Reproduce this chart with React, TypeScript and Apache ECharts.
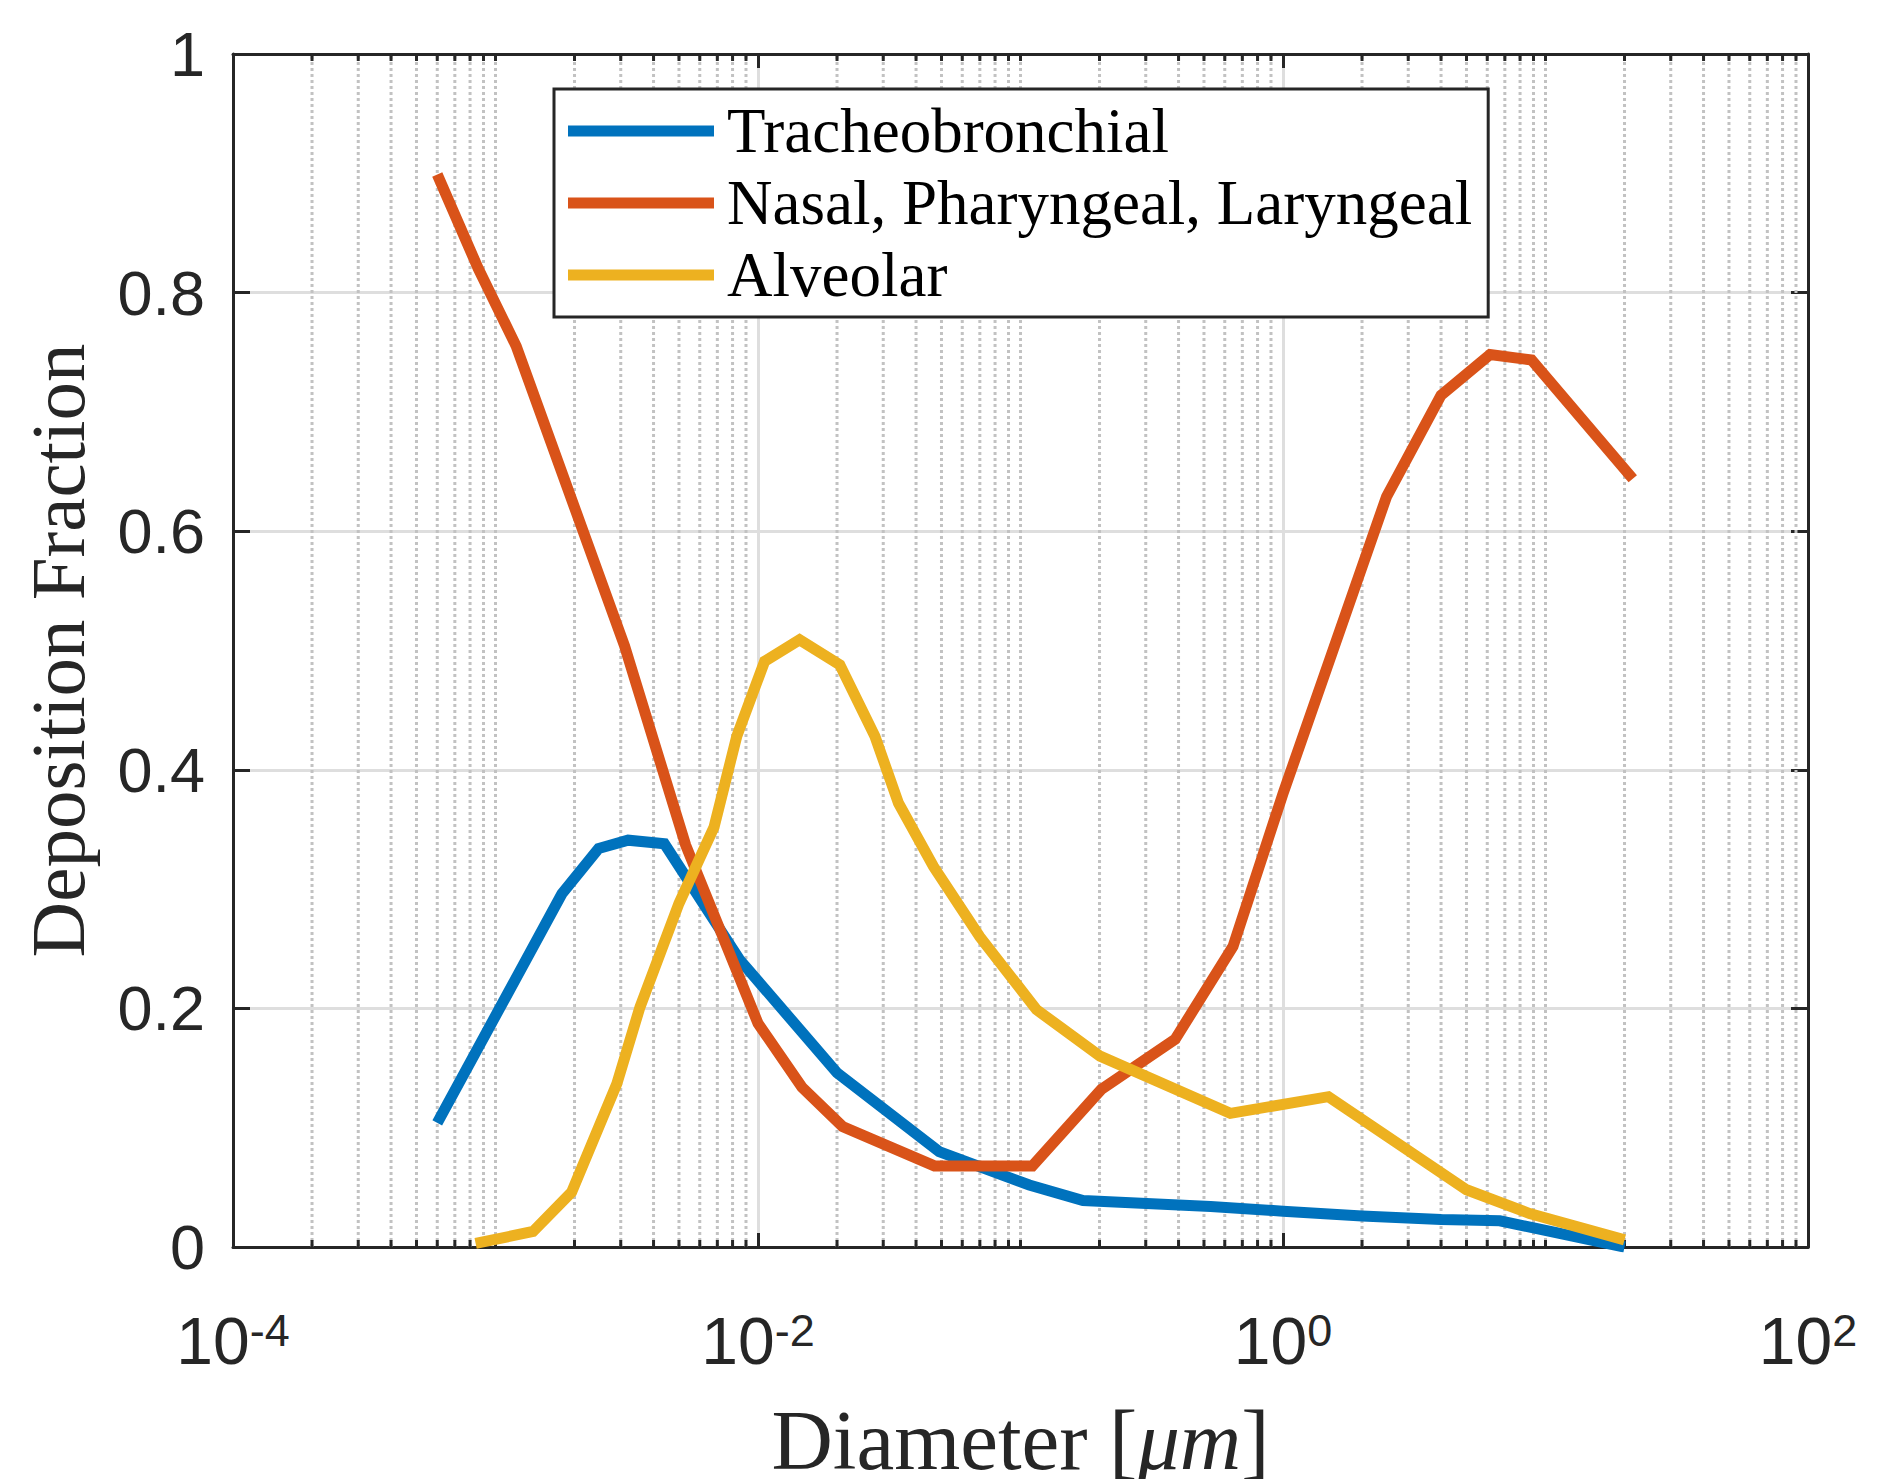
import React, { useEffect, useRef } from "react";
import * as echarts from "echarts";

// ---- data ----
const tracheoDiameter = [6e-4, 1.79e-3, 2.47e-3, 3.2e-3, 4.4e-3, 8.5e-3, 2.0e-2, 4.9e-2, 0.108, 0.173, 0.53, 1.0, 2.0, 4.0, 6.7, 20];
const tracheoFraction = [0.104, 0.296, 0.334, 0.341, 0.338, 0.241, 0.146, 0.08, 0.052, 0.039, 0.034, 0.03, 0.026, 0.023, 0.022, 0.0];

const nasalDiameter = [6e-4, 8.6e-4, 1.2e-3, 3.1e-3, 5.3e-3, 1.0e-2, 1.47e-2, 2.1e-2, 4.7e-2, 0.111, 0.203, 0.388, 0.645, 1.0, 2.48, 4.0, 6.15, 8.85, 21.5];
const nasalFraction = [0.899, 0.82, 0.755, 0.504, 0.337, 0.1875, 0.134, 0.101, 0.068, 0.068, 0.132, 0.174, 0.252, 0.38, 0.629, 0.714, 0.748, 0.7435, 0.644];

const alveolarDiameter = [8.4e-4, 1.39e-3, 1.95e-3, 2.9e-3, 3.55e-3, 5.0e-3, 6.8e-3, 8.3e-3, 1.06e-2, 1.44e-2, 2.05e-2, 2.79e-2, 3.43e-2, 4.66e-2, 7.0e-2, 0.115, 0.201, 0.63, 1.49, 5.0, 8.7, 20];
const alveolarFraction = [0.003, 0.013, 0.046, 0.137, 0.201, 0.288, 0.352, 0.428, 0.491, 0.509, 0.488, 0.428, 0.372, 0.319, 0.26, 0.199, 0.16, 0.112, 0.126, 0.048, 0.028, 0.006];

const seriesNames = ["Tracheobronchial", "Nasal, Pharyngeal, Laryngeal", "Alveolar"];
const seriesColors = ["#0072BD", "#D95319", "#EDB120"];

// log-axis structure: decades and mantissas for minor ticks / grid
const decadeExponents = [-4, -3, -2, -1, 0, 1];
const minorMantissas = [1, 2, 3, 4, 5, 6, 7, 8, 9];
const yTicks = [0, 0.2, 0.4, 0.6, 0.8, 1];

const minorPositions: number[] = [];
for (const e of decadeExponents) {
  for (const m of minorMantissas) {
    if (m === 1 && e % 2 === 0) continue;
    minorPositions.push(m * Math.pow(10, e));
  }
}

const AXIS = "#262626";
const SANS = "Liberation Sans, Arial, Helvetica, sans-serif";
const SERIF = "Liberation Serif, Times New Roman, serif";

function pairs(xs: number[], ys: number[]) {
  return xs.map((x, i) => [x, ys[i]]);
}

export default function App() {
  const ref = useRef<HTMLDivElement>(null);
  useEffect(() => {
    if (!ref.current) return;
    const chart = echarts.init(ref.current, undefined, { renderer: "svg" });
    const xLabelRich = {
      b: { fontSize: 66, fontFamily: SANS, color: AXIS, lineHeight: 66, verticalAlign: "bottom" },
      s: { fontSize: 45, fontFamily: SANS, color: AXIS, lineHeight: 45, verticalAlign: "top", padding: [0, 0, 61, 0] },
    };
    const lineSeries = [
      [tracheoDiameter, tracheoFraction],
      [nasalDiameter, nasalFraction],
      [alveolarDiameter, alveolarFraction],
    ].map(([xs, ys], i) => ({
      name: seriesNames[i],
      type: "line",
      xAxisIndex: 0,
      yAxisIndex: 0,
      data: pairs(xs as number[], ys as number[]),
      showSymbol: false,
      symbol: "none",
      color: seriesColors[i],
      itemStyle: { color: seriesColors[i] },
      lineStyle: { width: 11, color: seriesColors[i], join: "miter", cap: "butt" },
      z: 3 + i,
    }));

    const option: any = {
      animation: false,
      backgroundColor: "#ffffff",
      grid: { left: 233, right: 69, top: 54, bottom: 232, containLabel: false, outerBoundsMode: "none" },
      legend: {
        data: seriesNames,
        orient: "vertical",
        left: 554,
        top: 89,
        icon: "rect",
        itemWidth: 146,
        itemHeight: 11,
        itemGap: 0,
        padding: [6, 16, 6, 14],
        backgroundColor: "#ffffff",
        borderColor: AXIS,
        borderWidth: 3,
        borderRadius: 0,
        selectedMode: false,
        textStyle: { fontFamily: SERIF, fontSize: 63, lineHeight: 62, color: "#000000", padding: [0, 0, 10, 8] },
        z: 10,
      },
      xAxis: [
        {
          type: "log",
          logBase: 10,
          min: 1e-4,
          max: 100,
          interval: 2,
          position: "bottom",
          name: "{n|Diameter [}{i|μm}{n|]}",
          nameLocation: "middle",
          nameGap: 158,
          nameMoveOverlap: false,
          nameTextStyle: {
            rich: {
              n: { fontFamily: SERIF, fontSize: 85, color: AXIS, lineHeight: 70 },
              i: { fontFamily: SERIF, fontSize: 85, fontStyle: "italic", color: AXIS, lineHeight: 70 },
            },
          },
          axisLine: { show: true, onZero: false, lineStyle: { color: AXIS, width: 3 } },
          axisTick: { show: true, inside: true, length: 14, lineStyle: { color: AXIS, width: 3 } },
          axisLabel: {
            show: true,
            margin: 61,
            showMinLabel: true,
            showMaxLabel: true,
            formatter: (v: number) => {
              const e = Math.round(Math.log10(v));
              if (e % 2 !== 0) return "";
              return `{b|10}{s|${e}}`;
            },
            rich: xLabelRich,
          },
          splitLine: { show: true, lineStyle: { color: "#dedede", width: 3 } },
          minorTick: { show: false },
          minorSplitLine: { show: false },
        },
        {
          type: "log",
          logBase: 10,
          min: 1e-4,
          max: 100,
          interval: 2,
          position: "top",
          axisLine: { show: true, onZero: false, lineStyle: { color: AXIS, width: 3 } },
          axisTick: { show: true, inside: true, length: 14, lineStyle: { color: AXIS, width: 3 } },
          axisLabel: { show: false },
          splitLine: { show: false },
        },
      ],
      yAxis: [
        {
          type: "value",
          min: yTicks[0],
          max: yTicks[yTicks.length - 1],
          interval: 0.2,
          position: "left",
          name: "Deposition Fraction",
          nameLocation: "middle",
          nameGap: 137,
          nameMoveOverlap: false,
          nameTextStyle: { fontFamily: SERIF, fontSize: 77, color: AXIS },
          axisLine: { show: true, onZero: false, lineStyle: { color: AXIS, width: 3 } },
          axisTick: { show: true, inside: true, length: 17, lineStyle: { color: AXIS, width: 3 } },
          axisLabel: {
            show: true,
            margin: 28,
            showMinLabel: true,
            showMaxLabel: true,
            fontFamily: SANS,
            fontSize: 63,
            color: AXIS,
            formatter: (v: number) => String(Math.round(v * 10) / 10),
          },
          splitLine: { show: true, lineStyle: { color: "#dedede", width: 3 } },
        },
        {
          type: "value",
          min: yTicks[0],
          max: yTicks[yTicks.length - 1],
          interval: 0.2,
          position: "right",
          axisLine: { show: true, onZero: false, lineStyle: { color: AXIS, width: 3 } },
          axisTick: { show: true, inside: true, length: 17, lineStyle: { color: AXIS, width: 3 } },
          axisLabel: { show: false },
          splitLine: { show: false },
        },
      ],
      series: [
        {
          type: "custom",
          xAxisIndex: 0,
          yAxisIndex: 0,
          silent: true,
          z: 1,
          clip: false,
          data: minorPositions.map((v) => [v, 0]),
          encode: { x: 0, y: 1 },
          renderItem: (_params: any, api: any) => {
            const x = api.value(0);
            const b = api.coord([x, yTicks[0]]);
            const t = api.coord([x, yTicks[yTicks.length - 1]]);
            return {
              type: "group",
              children: [
                {
                  type: "line",
                  shape: { x1: b[0], y1: b[1], x2: t[0], y2: t[1] },
                  style: { stroke: "#c2c2c2", lineWidth: 3, lineDash: [3, 3] },
                },
                {
                  type: "line",
                  shape: { x1: b[0], y1: b[1], x2: b[0], y2: b[1] - 7 },
                  style: { stroke: AXIS, lineWidth: 3 },
                },
                {
                  type: "line",
                  shape: { x1: t[0], y1: t[1], x2: t[0], y2: t[1] + 7 },
                  style: { stroke: AXIS, lineWidth: 3 },
                },
              ],
            };
          },
        },
        ...lineSeries,
      ],
    };
    chart.setOption(option);
    return () => chart.dispose();
  }, []);
  return (
    <div
      ref={ref}
      style={{ position: "fixed", left: 0, top: 0, width: 1877, height: 1479, background: "#ffffff" }}
    />
  );
}
